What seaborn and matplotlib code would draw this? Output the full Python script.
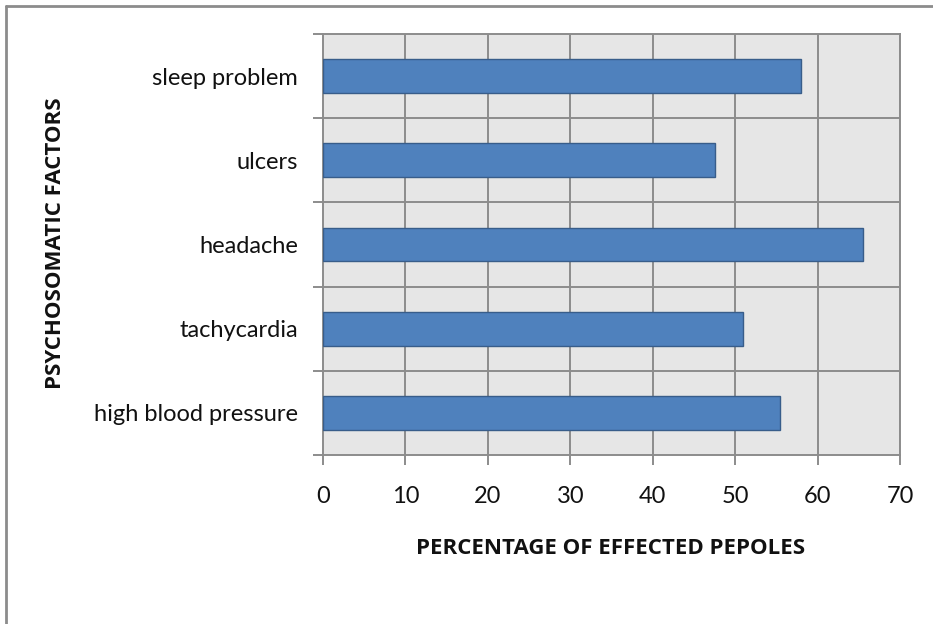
import matplotlib
matplotlib.use("Agg")
import matplotlib.pyplot as plt
from matplotlib.lines import Line2D
import seaborn as sns
import pandas as pd
import numpy as np

factors = ["sleep problem", "ulcers", "headache", "tachycardia", "high blood pressure"]
percentages = [58.0, 47.5, 65.5, 51.0, 55.5]
x_ticks = [0, 10, 20, 30, 40, 50, 60, 70]

df = pd.DataFrame({"factor": factors, "pct": percentages})

sns.set_theme(style="white")
plt.rcParams["font.family"] = ["Lato", "DejaVu Sans"]

fig = plt.figure(figsize=(9.33, 6.24), dpi=100)
ax = fig.add_axes([323 / 933, 1 - 455 / 624, 577 / 933, 421 / 624])
ax.set_facecolor("#e6e6e6")

sns.barplot(data=df, x="pct", y="factor", order=factors, orient="h",
            color="#4f81bd", saturation=1, width=0.4,
            edgecolor="#385d8a", linewidth=1.0, ax=ax, zorder=3)

grid_c = "#8c8c8c"
txt_c = "#111111"
ax.set_xlim(0, 70)
ax.set_ylim(len(factors) - 0.5, -0.5)
ax.set_xticks(x_ticks)
ax.set_xticklabels([str(t) for t in x_ticks], fontsize=17, color=txt_c)
ax.set_yticks(np.arange(len(factors)))
ax.set_yticklabels(factors, fontsize=17, color=txt_c)
ax.set_yticks(np.arange(len(factors) + 1) - 0.5, minor=True)

ax.tick_params(axis="x", which="major", direction="out", length=7, width=1.4,
               color=grid_c, pad=15, bottom=True)
ax.tick_params(axis="y", which="major", length=0, pad=18, left=True)
ax.tick_params(axis="y", which="minor", direction="out", length=7, width=1.4,
               color=grid_c, left=True)

for v in x_ticks[1:]:
    ax.axvline(v, color=grid_c, lw=1.4, zorder=1)
for b in np.arange(1, len(factors)) - 0.5:
    ax.axhline(b, color=grid_c, lw=1.4, zorder=1)

for s in ax.spines.values():
    s.set_visible(True)
    s.set_color(grid_c)
    s.set_linewidth(1.4)

ax.set_xlabel("")
ax.set_ylabel("")
title_font = dict(family=["Open Sans", "DejaVu Sans"], fontsize=16,
                  fontweight="bold", color=txt_c)
fig.text(611 / 933, 1 - 548 / 624, "PERCENTAGE OF EFFECTED PEPOLES",
         ha="center", va="center", **title_font)
fig.text(56 / 933, 1 - 243 / 624, "PSYCHOSOMATIC FACTORS", rotation=90,
         ha="center", va="center", **title_font)

# outer frame of the chart area
fig.add_artist(Line2D([6 / 933, 6 / 933], [0, 1 - 6 / 624], transform=fig.transFigure,
                      color="#8c8c8c", lw=2))
fig.add_artist(Line2D([6 / 933, 1], [1 - 6 / 624, 1 - 6 / 624], transform=fig.transFigure,
                      color="#8c8c8c", lw=2))

fig.savefig("out.png", dpi=100, facecolor="white")
